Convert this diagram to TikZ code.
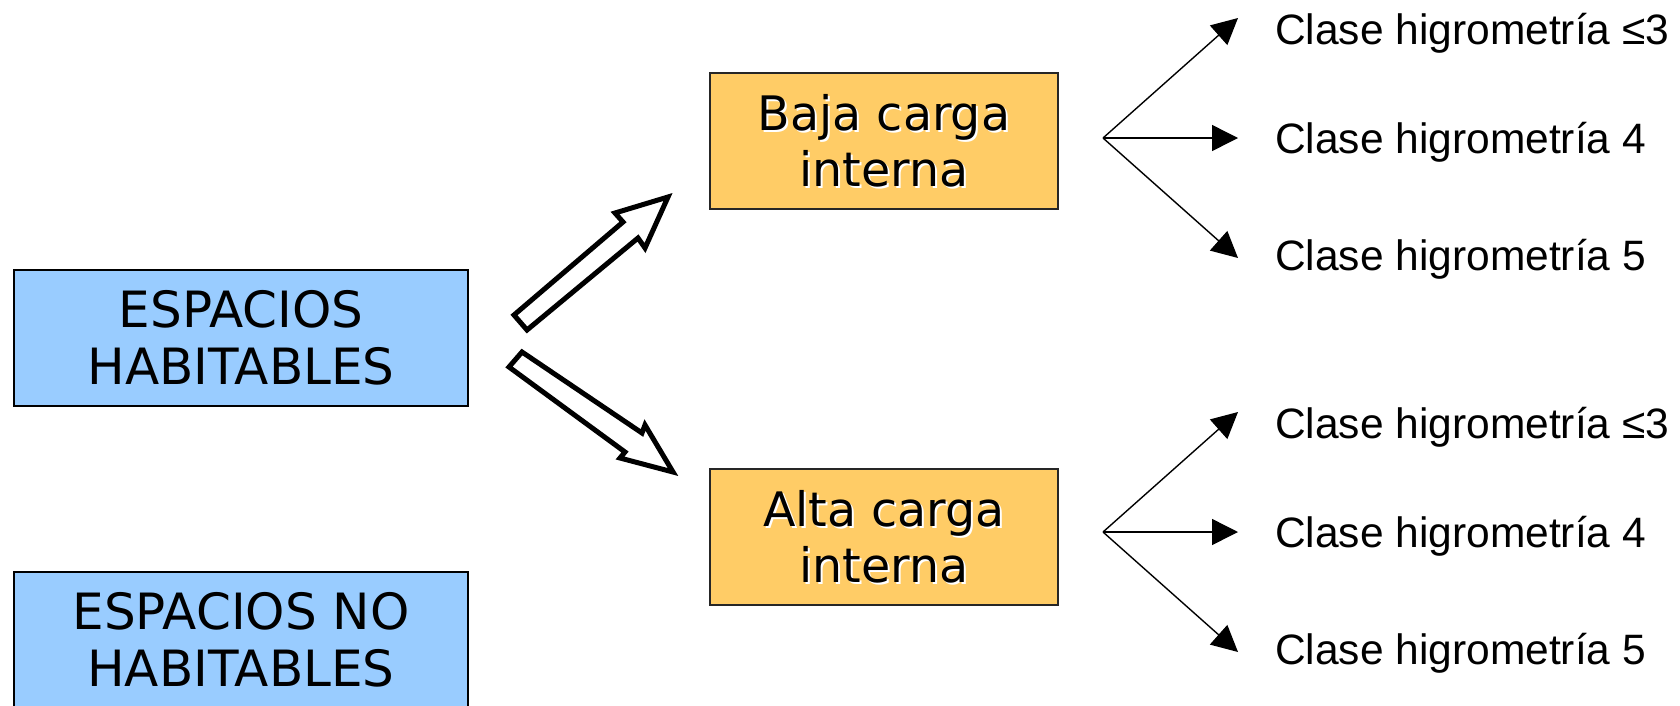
\documentclass[tikz,border=0pt]{standalone}
\usepackage{fontspec}
\setmainfont{Liberation Sans}
\newfontfamily\boxfont{DejaVu Sans}
\usetikzlibrary{arrows.meta}
\definecolor{habblue}{HTML}{99CCFF}
\definecolor{cargaorange}{HTML}{FFCC66}
\begin{document}
\begin{tikzpicture}[x=1pt,y=-1pt,
  spacebox/.style={draw=black,line width=2pt,fill=habblue,minimum width=454pt,minimum height=136pt,inner sep=0pt,align=center,font=\boxfont\fontsize{50}{57}\selectfont},
  cargabox/.style={draw=black!85,line width=2pt,fill=cargaorange,minimum width=348pt,minimum height=136pt,inner sep=0pt},
  cargatext/.style={align=center,font=\boxfont\fontsize{47.5}{56}\selectfont,inner sep=0pt},
  clase/.style={anchor=base west,inner sep=0pt,font=\fontsize{42.5}{50}\selectfont},
  fan/.style={line width=1.4pt,-{Triangle[length=26pt,width=26pt]}},
  blockarrow/.style={draw=black,line width=5pt,fill=white,line join=miter}
]
\useasboundingbox[fill=white] (0,0) rectangle (1680,705);

% boxes
\node[spacebox] (hab) at (241,338) {ESPACIOS\\HABITABLES};
\node[spacebox] (nohab) at (241,640) {ESPACIOS NO\\HABITABLES};
\node[cargabox] (baja) at (884,141) {};
\node[cargabox] (alta) at (884,537) {};
\node[cargatext,white,xshift=2pt,yshift=-2pt] (bajash) at (baja) {Baja carga\\interna};
\node[cargatext] (bajat) at (baja) {Baja carga\\interna};
\node[cargatext,white,xshift=2pt,yshift=-2pt] (altash) at (alta) {Alta carga\\interna};
\node[cargatext] (altat) at (alta) {Alta carga\\interna};

% block arrows
\draw[blockarrow] (514,315) -- (623,222) -- (615,213) -- (668,197) -- (645,248) -- (638,238) -- (527,330) -- cycle;
\draw[blockarrow] (522,352) -- (642,433) -- (645,425) -- (673,472) -- (620,458) -- (625,452) -- (509,367) -- cycle;

% fan coordinates
\coordinate (fu) at (1103,138);
\coordinate (tu1) at (1238,18);
\coordinate (tu2) at (1238,138);
\coordinate (tu3) at (1238,258);
\coordinate (fl) at (1103,532);
\coordinate (tl1) at (1238,412);
\coordinate (tl2) at (1238,532);
\coordinate (tl3) at (1238,652);

\draw[fan] (fu) -- (tu1);
\draw[fan] (fu) -- (tu2);
\draw[fan] (fu) -- (tu3);
\draw[fan] (fl) -- (tl1);
\draw[fan] (fl) -- (tl2);
\draw[fan] (fl) -- (tl3);

% labels
\node[clase] (cu1) at (1275,44) {Clase higrometría ≤3};
\node[clase] (cu2) at (1275,153) {Clase higrometría 4};
\node[clase] (cu3) at (1275,270) {Clase higrometría 5};
\node[clase] (cl1) at (1275,438) {Clase higrometría ≤3};
\node[clase] (cl2) at (1275,547) {Clase higrometría 4};
\node[clase] (cl3) at (1275,664) {Clase higrometría 5};
\end{tikzpicture}
\end{document}
